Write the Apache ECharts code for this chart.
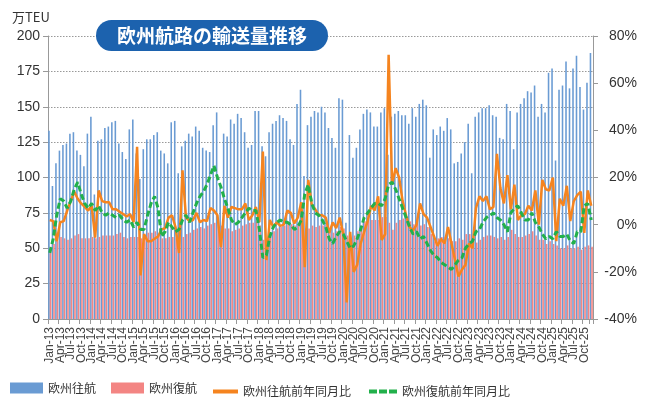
<!DOCTYPE html>
<html><head><meta charset="utf-8">
<script src="https://cdn.jsdelivr.net/npm/echarts@6/dist/echarts.min.js"></script>
<style>html,body{margin:0;padding:0;background:#fff}#c{width:652px;height:401px}</style>
</head><body><div id="c"></div>
<script>
const yearLabels = ['13','14','15','16','17','18','19','20','21','22','23','24','25'];
const monthLabels = ['Jan','Feb','Mar','Apr','May','Jun','Jul','Aug','Sep','Oct','Nov','Dec'];
const categories = [];
yearLabels.forEach(y => monthLabels.forEach(m => categories.push(m + '-' + y)));

// 欧州往航 (万TEU)
const outbound = [
  133, 94,110,119,123,124,131,132,119,116,108,131,
  143, 88,126,127,135,136,139,140,124,118,113,134,
  141,117, 99,120,127,127,130,132,119,117,110,139,
  140,103,122,126,131,129,136,133,121,119,118,137,
  146, 93,131,129,141,138,145,142,132,121,123,147,
  147,122,115,132,138,140,144,142,140,127,123,152,
  162,101,137,143,147,146,150,146,135,128,121,156,
  155, 68,130,114,121,134,145,148,146,136,136,146,
  149,116,143,145,147,144,144,138,149,143,152,155,
  151,114,134,130,136,133,142,134,110,111,117,125,
  138,103,143,146,149,149,151,144,143,128,127,152,
  147,120,146,152,156,161,160,165,143,152,146,174,
  177,112,162,165,182,163,177,186,164,148,167,188
];
// 欧州復航 (万TEU)
const inbound = [
  51,53,55,58,57,56,57,59,60,57,57,57,
  58,57,58,59,59,59,59,60,61,58,57,58,
  58,58,57,58,61,61,62,60,57,57,58,58,
  57,57,58,60,61,63,64,65,64,66,67,68,
  68,66,64,64,62,63,64,66,67,68,68,69,
  66,56,54,61,62,64,65,66,67,67,66,67,
  68,64,64,66,65,66,66,66,63,61,62,65,
  64,59,56,59,62,66,69,70,70,70,70,72,
  72,68,63,68,70,71,71,69,67,68,66,67,
  65,60,55,57,58,58,57,55,55,57,56,60,
  60,56,54,56,58,59,59,58,57,58,56,58,
  63,60,58,58,59,60,62,59,56,56,53,55,
  53,52,50,50,52,50,50,51,49,51,52,51
];
// 欧州往航前年同月比 (%)
const outboundYoY = [
  2,1.5,-7,1,1.5,6,10,14,11,9,7.5,6,
  8,-5.5,14.5,10,9.5,9.5,6.5,6.5,5.5,4.5,3.5,4.5,
  1,33,-21.5,-4,-7,-7,-6,-5,-2,-1.5,3,4,
  -1,-12,23,3,1.5,2,5,1,2,1.5,7,6,
  4,-9.5,8,3,7.5,7,6.5,6.5,9,2,4,7.5,
  1,31,-15,2,-1,1,-0.5,0,6,5,0.5,3,
  9.5,-18,19,8.5,6.5,4,4,3,-3.5,1,-1.5,3,
  -4,-33,-3,-20,-17,-8,-3,1.5,8,6,12,-6.5,
  -4,72,17,24,20,10,4,-1,-2.5,0,9,4.5,
  3,-1,-5,-9,-6,-8,-1,-8,-15,-22,-19,-17,
  -8,-10,7,12,10,12,6.5,7.5,30,15.5,9,21,
  6.5,17,2,4,4.5,8,6,14.5,0,19,15,14.5,
  20,-7,11,8,16.5,1.5,10,12.5,14,-3.5,14.5,8
];
// 欧州復航前年同月比 (%)
const inboundYoY = [
  -12,-6,4,11,10,7,10,15,18,13,9,7,
  9,6,8,5,4,5,4,3,4,2,1,2,
  -1,1,-2,-2,4,9,12,7,-5,-3,1,-1,
  -3,-2,2,4,1,5,9,12,14,17,21,25,
  20,16,11,7,2,0,1,3,5,7,6,6,
  -2,-14,-13,-5,-1,1,2,1,1,0,-2,-1,
  2,13,17,9,5,4,2,-1,-6,-8,-5,-3,
  -4,-7,-10,-9,-6,-2,3,5,7,9,9,8,
  11,17,18,15,11,7,3,-1,-4,-3,-6,-5,
  -8,-11,-13,-14,-16,-17,-18,-19,-17,-15,-14,-10,
  -8,-7,-3,-2,1,3,4,5,3,2,0,-3,
  5,7,8,5,2,2,5,1,-1,-4,-6,-5,
  -6,-3,-5,-5,-4,-7,-8,-3,-3,8,9,2
];

const seriesNames = ['欧州往航','欧州復航','欧州往航前年同月比','欧州復航前年同月比'];
const colors = ['#6a9bd3','#f38583','#f5841f','#22b04b'];
const numFont = 'Liberation Sans, Arial, sans-serif';
const jpFont = 'Noto Sans CJK JP, sans-serif';

const chart = echarts.init(document.getElementById('c'), null, {renderer:'canvas'});
const legendText = {fontSize:12, color:'#333', fontFamily: jpFont};
const legendBase = {padding:0, itemGap:0, textStyle:legendText};
chart.setOption({
  animation:false,
  backgroundColor:'#fff',
  grid:{left:48,right:59,top:36,bottom:82,containLabel:false,outerBoundsMode:'none'},
  legend:[
    Object.assign({data:[seriesNames[0]],left:10,top:382,itemWidth:33,itemHeight:11,icon:'rect'}, legendBase),
    Object.assign({data:[seriesNames[1]],left:111,top:382,itemWidth:33,itemHeight:11,icon:'rect'}, legendBase),
    Object.assign({data:[{name:seriesNames[2],icon:'rect'}],left:213,top:385.5,itemWidth:25,itemHeight:4,itemStyle:{color:colors[2]}}, legendBase),
    Object.assign({data:[{name:seriesNames[3],icon:'path://M0,0H8V4H0Z M10,0H18V4H10Z M20,0H28V4H20Z'}],left:369,top:385.5,itemWidth:28,itemHeight:4,itemStyle:{color:colors[3],borderWidth:0}}, legendBase)
  ],
  xAxis:{
    type:'category', data:categories, boundaryGap:true,
    axisLine:{show:true,lineStyle:{color:'#999',width:1}},
    axisTick:{show:true,interval:2,length:5,lineStyle:{color:'#999'}},
    axisLabel:{interval:0,rotate:90,fontSize:12,color:'#444',fontFamily:numFont,margin:8,
      formatter:(v,i)=> (i % 3 === 0 ? v : '')},
    splitLine:{show:false}
  },
  yAxis:[
    {type:'value',min:0,max:200,interval:25,position:'left',
     axisLine:{show:true,lineStyle:{color:'#999'}},
     axisTick:{show:true,length:5,lineStyle:{color:'#999'}},
     axisLabel:{fontSize:14,color:'#333',fontFamily:numFont,margin:8},
     splitLine:{show:true,lineStyle:{color:'#999',type:[1.5,1.5],width:1}}},
    {type:'value',min:-40,max:80,interval:20,position:'right',
     axisLine:{show:true,lineStyle:{color:'#999'}},
     axisTick:{show:true,length:5,lineStyle:{color:'#999'}},
     axisLabel:{fontSize:14,color:'#333',fontFamily:numFont,margin:44,align:'right',formatter:'{value}%'},
     splitLine:{show:false}}
  ],
  series:[
    {name:seriesNames[0],type:'bar',data:outbound,itemStyle:{color:colors[0]},barGap:'0%',barCategoryGap:'10%',z:2},
    {name:seriesNames[1],type:'bar',data:inbound,itemStyle:{color:colors[1]},barGap:'0%',barCategoryGap:'10%',z:2},
    {name:seriesNames[2],type:'line',yAxisIndex:1,data:outboundYoY,symbol:'none',itemStyle:{color:colors[2]},lineStyle:{color:colors[2],width:2.5},z:3},
    {name:seriesNames[3],type:'line',yAxisIndex:1,data:inboundYoY,symbol:'none',itemStyle:{color:colors[3]},lineStyle:{color:colors[3],width:3,type:[6,3]},z:4}
  ],
  graphic:[
    {type:'text',left:12,top:11,style:{text:'万TEU',fontSize:13,fill:'#333',fontFamily:jpFont}},
    {type:'rect',shape:{x:96,y:20,width:232,height:31,r:15.5},style:{fill:'#1c62ae'},z:10},
    {type:'text',x:212,y:35.5,style:{text:'欧州航路の輸送量推移',fontSize:19,fontWeight:'bold',fill:'#fff',fontFamily:jpFont,align:'center',verticalAlign:'middle'},z:11}
  ]
});
</script>
</body></html>
